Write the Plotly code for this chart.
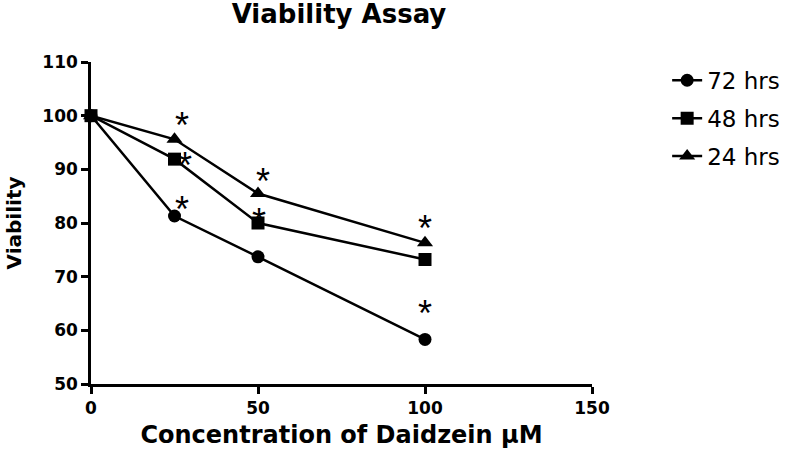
import plotly.graph_objects as go

# ---- data ----
concentration = [0, 25, 50, 100]
series_names = ["72 hrs", "48 hrs", "24 hrs"]
viability_72 = [100, 81.3, 73.7, 58.3]
viability_48 = [100, 91.9, 80.0, 73.2]
viability_24 = [100, 95.6, 85.5, 76.3]
symbols = ["circle", "square", "triangle-up"]
x_ticks = [0, 50, 100, 150]
y_ticks = [50, 60, 70, 80, 90, 100, 110]

# significance marks: (series index, point index)
sig_marks = [(0, 1), (0, 3), (1, 1), (1, 2), (2, 1), (2, 2), (2, 3)]

BOLD = "DejaVu Sans, Arial, sans-serif"
REG = "DejaVu Sans, Arial, sans-serif"

fig = go.Figure()
all_vals = [viability_72, viability_48, viability_24]
for i, (name, vals, sym) in enumerate(zip(series_names, all_vals, symbols)):
    fig.add_trace(go.Scatter(
        x=concentration, y=vals, name=name, mode="lines+markers",
        legendgroup="g%d" % i,
        line=dict(color="black", width=2.5),
        marker=dict(symbol=sym, size=13 if sym != "triangle-up" else 14, color="black"),
        cliponaxis=False,
    ))

# pixel offsets (glyph centre relative to point) for asterisks
offsets = {
    (0, 1): (7, -13), (0, 3): (0, -32),
    (1, 1): (10, 0), (1, 2): (1, -8),
    (2, 1): (7, -20), (2, 2): (5, -18), (2, 3): (0, -20),
}
AST = 36
for si, pi in sig_marks:
    dx, dy = offsets[(si, pi)]
    fig.add_annotation(
        x=concentration[pi], y=all_vals[si][pi], text="*", showarrow=False,
        xshift=dx, yshift=-dy - 6,
        font=dict(family="Liberation Sans, Arial, sans-serif", size=AST, color="black"),
    )

fig.update_layout(
    width=797, height=460,
    margin=dict(l=91, r=205, t=62, b=76),
    paper_bgcolor="white", plot_bgcolor="white",
    title=dict(text="<b>Viability Assay</b>", x=339 / 797, xanchor="center",
               y=1 - 14 / 460, yanchor="middle",
               font=dict(family=BOLD, size=26, color="black")),
    legend=dict(x=1.15, y=1.01, xanchor="left", yanchor="top",
                font=dict(family=REG, size=23, color="black"),
                tracegroupgap=5, itemsizing="trace"),
    showlegend=True,
)
fig.update_xaxes(
    range=[0, 150], tickvals=x_ticks, ticktext=["<b>%d</b>" % v for v in x_ticks],
    showgrid=False, zeroline=False, showline=True, linecolor="black", linewidth=2.5,
    ticks="outside", ticklen=7, tickwidth=2.5, tickcolor="black",
    tickfont=dict(family=BOLD, size=17, color="black"), automargin=False,
    title=dict(text="<b>Concentration of Daidzein μM</b>", standoff=10,
               font=dict(family=BOLD, size=24, color="black")),
)
fig.update_yaxes(
    range=[50, 110], tickvals=y_ticks, ticktext=["<b>%d</b>" % v for v in y_ticks],
    showgrid=False, zeroline=False, showline=True, linecolor="black", linewidth=2.5,
    ticks="outside", ticklen=7, tickwidth=2.5, tickcolor="black",
    tickfont=dict(family=BOLD, size=17, color="black"), automargin=False,
    title=dict(text="<b>Viability</b>", standoff=16,
               font=dict(family=BOLD, size=20, color="black")),
)

fig.write_html("out.html", config={"displayModeBar": False},
               post_script="document.body.style.margin='0';")
